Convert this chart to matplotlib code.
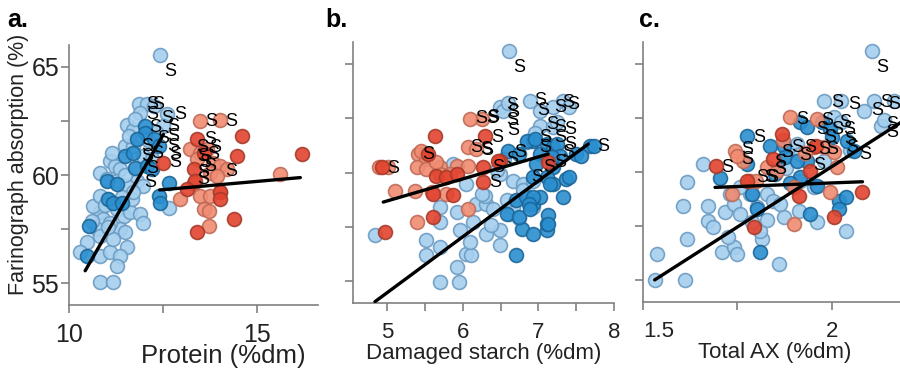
import matplotlib
matplotlib.use("Agg")
import matplotlib.pyplot as plt

plt.rcParams['font.family'] = ['Liberation Sans', 'DejaVu Sans']

# ---- panel a: protein ----
lb_a_x = [12.42, 11.85, 12.07, 12.25, 11.89, 12.6, 12.5, 11.54, 11.71, 11.49, 11.71, 12.07, 11.09, 11.23,
          10.83, 11.0, 11.36, 11.8, 11.98, 11.0, 11.23, 11.27, 11.45, 10.83, 10.91, 11.63, 11.89, 11.98,
          11.36, 11.49, 10.74, 10.83, 10.47, 10.29, 10.83, 11.09, 11.54, 11.36, 11.27, 10.83, 11.18, 12.65,
          11.27, 11.54, 11.67, 11.71, 11.98, 12.2, 11.09, 11.18, 10.65, 10.83, 11.6, 11.75, 11.15, 10.95,
          11.4, 12.3, 12.1, 10.6, 11.05, 11.5]
lb_a_y = [65.55, 63.3, 63.3, 63.2, 62.87, 62.8, 62.25, 62.33, 62.1, 61.33, 61.33, 61.95, 60.64, 60.41,
          60.1, 59.8, 60.26, 59.72, 59.5, 58.88, 58.73, 58.42, 58.11, 58.27, 57.96, 58.27, 58.19, 57.8,
          57.5, 57.35, 57.5, 57.2, 56.9, 56.43, 56.27, 56.43, 56.66, 56.27, 55.8, 55.05, 55.05, 58.5,
          59.72, 59.5, 58.88, 59.2, 60.87, 60.72, 57.8, 57.04, 58.57, 59.03, 61.8, 62.6, 61.0, 58.6,
          59.0, 62.0, 61.6, 57.9, 57.6, 60.0]
db_a_x = [10.49, 10.54, 11.02, 11.27, 11.04, 11.18, 11.4, 11.49, 11.71, 11.76, 12.02, 12.02, 12.25, 12.38,
          12.65, 12.38, 12.42, 12.07, 12.2, 11.8]
db_a_y = [56.27, 57.65, 59.72, 59.57, 58.88, 58.73, 58.73, 60.87, 61.03, 60.34, 62.25, 61.95, 61.64, 61.33,
          59.65, 59.03, 58.73, 60.41, 60.26, 61.64]
lr_a_x = [13.49, 14.02, 13.22, 13.49, 13.67, 13.4, 13.84, 14.02, 14.2, 12.96, 13.49, 13.76, 14.02, 13.58,
          13.71, 13.71, 15.62, 13.76, 13.93, 13.31]
lr_a_y = [62.48, 62.56, 61.18, 61.03, 61.18, 60.72, 60.57, 60.41, 60.26, 58.88, 59.03, 59.03, 59.2, 58.42,
          58.34, 57.65, 60.03, 60.1, 59.95, 59.65]
dr_a_x = [14.6, 16.2, 14.47, 13.4, 12.51, 13.31, 13.36, 14.02, 14.02, 14.38, 13.4, 13.58, 13.13]
dr_a_y = [61.8, 60.95, 60.87, 61.64, 60.57, 60.26, 59.72, 59.2, 58.88, 57.96, 57.35, 61.03, 59.34]
s_a_x = [12.69, 12.2, 12.38, 12.2, 12.95, 12.29, 12.78, 12.78, 12.78, 12.82, 12.82, 12.07, 12.07, 12.15,
         12.2, 12.5, 12.6, 12.35,
         13.79, 14.32, 13.75, 13.53, 13.88, 13.57, 13.84, 13.61, 13.75, 13.57, 13.57, 14.32]
s_a_y = [64.77, 63.24, 63.24, 62.78, 62.78, 62.17, 62.24, 61.79, 61.33, 60.95, 60.56, 61.33, 60.87, 59.64,
         60.3, 61.7, 62.6, 61.0,
         62.47, 62.47, 61.63, 61.25, 61.25, 60.87, 60.95, 60.56, 60.41, 60.1, 59.8, 60.18]
fit_a_blue = ([10.43, 12.51], [55.58, 61.87])
fit_a_red = ([12.41, 16.15], [59.31, 59.88])

# ---- panel b: damaged starch ----
lb_b_x = [6.61, 6.49, 6.53, 6.89, 7.02, 7.33, 7.19, 7.02, 7.19, 5.87, 6.05, 6.49, 6.67, 6.8, 5.7, 5.92,
          6.18, 6.31, 6.4, 5.7, 5.96, 6.14, 6.31, 6.49, 5.52, 5.7, 5.52, 6.05, 6.11, 5.92, 5.7, 5.95,
          4.84, 6.09, 6.49, 6.62, 6.67, 6.8, 6.93, 6.58, 6.75, 6.93, 6.45, 6.3, 6.37, 7.4, 7.25, 6.95,
          6.55, 6.25, 6.6, 6.85]
lb_b_y = [65.59, 62.99, 62.84, 63.3, 62.84, 63.3, 62.99, 62.15, 62.08, 60.4, 59.48, 59.94, 59.63, 59.48,
          58.41, 58.18, 58.56, 58.56, 58.34, 57.73, 57.34, 57.73, 57.19, 57.34, 56.88, 56.58, 56.2, 56.27,
          56.2, 55.66, 54.98, 54.98, 57.11, 56.81, 56.66, 58.1, 58.4, 59.2, 58.4, 58.72, 57.9, 59.6, 60.1,
          58.9, 57.6, 63.0, 62.3, 61.8, 60.6, 59.0, 63.2, 61.4]
db_b_x = [6.71, 6.78, 6.93, 7.11, 7.11, 6.71, 6.84, 6.93, 7.02, 7.33, 7.19, 7.37, 6.93, 7.11, 7.19, 6.6,
          6.75, 7.02, 7.5, 7.68, 6.97, 7.19, 6.93, 7.11, 6.58, 6.75, 6.85, 6.96, 7.24, 7.73, 7.57, 7.29,
          7.4, 7.15, 6.93, 6.87, 6.89, 7.13, 7.13, 7.18]
db_b_y = [56.2, 57.42, 57.19, 57.34, 57.65, 58.72, 58.87, 58.56, 58.87, 58.87, 59.48, 59.71, 61.47, 61.31,
          61.16, 61.01, 60.85, 60.85, 60.85, 61.24, 60.4, 60.24, 59.79, 59.79, 58.1, 57.95, 61.46, 61.54,
          61.31, 61.23, 60.77, 60.77, 59.78, 59.47, 58.86, 58.56, 58.33, 58.03, 57.64, 60.7]
lr_b_x = [6.25, 6.09, 6.07, 6.18, 5.41, 5.52, 5.52, 4.9, 5.01, 5.7, 5.92, 6.07, 5.1, 5.37, 5.59, 5.78,
          5.39, 6.07, 5.7, 5.83, 5.39, 5.52, 5.45, 5.65]
lr_b_y = [62.46, 62.46, 61.16, 61.08, 60.85, 60.85, 60.63, 60.24, 60.24, 60.24, 60.32, 60.32, 59.17, 59.17,
          59.1, 59.02, 57.73, 58.34, 59.94, 59.94, 60.24, 60.17, 61.0, 60.5]
dr_b_x = [5.63, 6.29, 6.49, 6.27, 6.27, 4.97, 5.61, 5.65, 5.78, 5.92, 5.61, 5.87, 5.54, 7.13, 6.47, 4.93]
dr_b_y = [61.7, 61.7, 60.55, 60.24, 59.56, 57.27, 57.95, 59.86, 59.79, 59.94, 59.02, 58.95, 60.85, 60.47,
          60.54, 60.24]
s_b_x = [6.75, 6.65, 6.67, 7.02, 7.07, 7.29, 7.4, 7.46, 6.65, 6.67, 6.4, 6.45, 7.18, 7.29, 7.42, 7.09,
         7.29, 7.42, 7.09, 6.76, 6.65, 7.86, 7.4, 7.29, 7.15, 6.98, 6.32, 6.47, 6.43, 5.08, 5.54, 6.25,
         6.39, 6.18, 6.31]
s_b_y = [64.82, 63.06, 62.76, 63.29, 62.83, 62.99, 63.22, 63.14, 62.38, 61.92, 62.53, 61.61, 62.22, 62.07,
         61.99, 61.61, 61.61, 61.31, 61.15, 60.93, 60.62, 61.19, 60.93, 60.47, 60.24, 59.78, 61.0, 60.24,
         59.55, 60.17, 60.85, 62.46, 62.46, 61.16, 61.08]
fit_b_blue = ([4.84, 7.66], [54.06, 61.31])
fit_b_red = ([4.95, 7.13], [58.64, 60.85])

# ---- panel c: total AX ----
lb_c_x = [2.108, 1.531, 1.611, 1.536, 1.616, 1.607, 1.673, 1.616, 1.66, 1.673, 1.686, 1.718, 1.74, 1.758,
          1.709, 1.74, 1.749, 1.815, 1.811, 1.86, 1.873, 1.913, 1.962, 2.037, 1.98, 2.024, 2.086, 2.113,
          2.131, 2.166, 1.909, 1.917, 1.829, 1.846, 1.864, 1.784, 1.802, 1.953, 1.917, 1.731, 1.758,
          2.006, 2.024, 1.83, 1.79, 1.725, 1.88, 1.98, 2.05, 2.14]
lb_c_y = [65.6, 55.02, 55.02, 56.22, 56.91, 58.45, 58.45, 59.52, 60.37, 57.75, 57.45, 58.14, 58.52, 58.06,
          56.29, 56.52, 56.22, 56.91, 57.29, 55.75, 57.91, 58.22, 57.68, 57.29, 63.29, 63.29, 62.83, 63.29,
          62.14, 63.29, 61.29, 60.83, 58.98, 58.68, 58.52, 58.98, 58.37, 59.29, 59.6, 58.98, 59.29,
          62.52, 62.29, 57.8, 57.7, 57.0, 60.2, 60.5, 61.0, 62.4]
db_c_x = [1.775, 1.917, 1.935, 1.975, 1.997, 1.837, 1.873, 1.917, 1.962, 1.935, 1.789, 1.802, 1.944, 2.02,
          2.037, 2.02, 1.811, 2.042, 2.06, 1.877, 1.909, 1.775, 1.705, 1.85, 1.89, 2.0]
db_c_y = [61.68, 62.29, 62.06, 62.29, 61.98, 61.21, 61.21, 59.75, 59.37, 60.52, 58.98, 58.29, 58.06, 58.68,
          58.83, 58.29, 56.29, 61.45, 60.98, 60.68, 60.52, 60.37, 59.74, 59.9, 59.5, 61.6]
lr_c_x = [1.891, 1.962, 1.744, 1.766, 1.75, 1.829, 1.855, 1.953, 1.98, 2.006, 1.735, 1.9, 1.997, 1.9,
          1.784, 1.8, 2.015, 1.87, 1.93]
lr_c_y = [62.52, 62.45, 60.98, 60.52, 60.75, 60.22, 60.06, 61.14, 61.14, 60.91, 58.98, 57.6, 59.06, 59.29,
          59.6, 59.6, 60.22, 61.5, 60.9]
dr_c_x = [1.694, 1.869, 2.082, 2.006, 1.944, 1.913, 1.793, 1.846, 1.775, 1.96]
dr_c_y = [60.26, 61.75, 59.06, 57.91, 60.06, 58.91, 57.45, 60.6, 59.6, 61.2]
s_c_x = [2.135, 2.015, 2.059, 2.121, 2.144, 2.166, 1.922, 1.988, 2.037, 1.975, 2.015, 2.046, 1.997, 2.05,
         2.055, 2.09, 2.161, 2.161, 1.909, 1.944, 1.98, 2.002, 1.882, 1.864, 1.864, 1.842, 1.966, 1.931,
         1.807, 1.776, 1.776, 1.723, 1.816, 1.838]
s_c_y = [64.82, 63.2, 63.13, 62.82, 63.2, 63.13, 62.43, 62.36, 62.28, 61.97, 61.97, 61.97, 61.59, 61.51,
         61.13, 60.82, 62.2, 61.82, 61.13, 61.13, 61.05, 61.05, 60.9, 60.43, 60.13, 59.74, 60.28, 60.74,
         61.59, 61.05, 60.59, 60.2, 59.74, 59.74]
fit_c_all = ([1.531, 2.22], [55.02, 62.69])
fit_c_flat = ([1.691, 2.082], [59.29, 59.55])

groups = [
    ('#a5cfee', '#6b9bc2'),   # light blue
    ('#2a8fd0', '#1c6698'),   # dark blue
    ('#f08c72', '#c06a57'),   # light red
    ('#e2432e', '#a53b2b'),   # dark red
]

fig = plt.figure(figsize=(9, 3.71), dpi=100)
W, H = 900.0, 371.0


def make_axes(left, right, top, bottom):
    return fig.add_axes([left / W, 1 - bottom / H, (right - left) / W, (bottom - top) / H])


ax_a = make_axes(69, 318, 45, 305)
ax_b = make_axes(353, 614, 42, 303)
ax_c = make_axes(643, 907, 42, 302)

panels = [
    (ax_a, [(lb_a_x, lb_a_y), (db_a_x, db_a_y), (lr_a_x, lr_a_y), (dr_a_x, dr_a_y)],
     (s_a_x, s_a_y), [fit_a_blue, fit_a_red]),
    (ax_b, [(lb_b_x, lb_b_y), (db_b_x, db_b_y), (lr_b_x, lr_b_y), (dr_b_x, dr_b_y)],
     (s_b_x, s_b_y), [fit_b_blue, fit_b_red]),
    (ax_c, [(lb_c_x, lb_c_y), (db_c_x, db_c_y), (lr_c_x, lr_c_y), (dr_c_x, dr_c_y)],
     (s_c_x, s_c_y), [fit_c_all, fit_c_flat]),
]

for ax, series, (sx, sy), fits in panels:
    for (x, y), (fc, ec) in zip(series, groups):
        ax.scatter(x, y, s=100, c=fc, edgecolors=ec, linewidths=1.2, alpha=0.9, zorder=2)
    for fx, fy in fits:
        ax.plot(fx, fy, color='black', lw=2.4, solid_capstyle='round', zorder=3)
    for x, y in zip(sx, sy):
        ax.text(x, y, 'S', fontsize=13, ha='center', va='center', color='black', zorder=4)
    ax.set_ylim(54, 66)
    ax.set_yticks([55, 57.5, 60, 62.5, 65])
    for side in ('top', 'right'):
        ax.spines[side].set_visible(False)
    for side in ('left', 'bottom'):
        ax.spines[side].set_color('#808080')
        ax.spines[side].set_linewidth(1.2)
    ax.tick_params(direction='out', length=6, width=1.2, color='#808080', labelsize=16,
                   labelcolor='#222222')

ax_a.set_xlim(10, 16.62)
ax_a.set_xticks([10, 12.5, 15])
ax_a.set_xticklabels(['10', '', '15'])
ax_a.set_yticklabels(['55', '', '60', '', '65'])
ax_a.tick_params(labelsize=18)
ax_a.tick_params(axis='y', pad=1)
ax_a.tick_params(axis='x', pad=7)
ax_a.set_ylabel('Farinograph absorption (%)', fontsize=15.5, color='#222222')
ax_a.yaxis.set_label_coords(-0.16, 0.54)
ax_a.set_xlabel('Protein (%dm)', fontsize=18.5, color='#222222')
ax_a.xaxis.set_label_coords(0.62, -0.15)

ax_b.set_xlim(4.55, 8.0)
ax_b.set_xticks([5, 5.5, 6, 6.5, 7, 7.5, 8])
ax_b.set_xticklabels(['5', '', '6', '', '7', '', '8'])
ax_b.set_yticklabels([])
ax_b.tick_params(axis='x', pad=8)
ax_b.set_xlabel('Damaged starch (%dm)', fontsize=16, color='#222222')
ax_b.xaxis.set_label_coords(0.5, -0.155)

ax_c.set_xlim(1.5, 2.2)
ax_c.set_xticks([1.5, 1.75, 2.0])
ax_c.set_xticklabels(['1.5', '', '2'])
ax_c.set_yticklabels([])
ax_c.tick_params(axis='x', pad=8)
ax_c.get_xticklabels()[0].set_horizontalalignment('left')
ax_c.set_xlabel('Total AX (%dm)', fontsize=16, color='#222222')
ax_c.xaxis.set_label_coords(0.5, -0.155)

for label, xpos in (('a.', 7), ('b.', 325), ('c.', 639)):
    fig.text(xpos / W, 1 - 8 / H, label, fontsize=18, fontweight='bold', ha='left', va='top')

fig.savefig('out.png', dpi=100)
